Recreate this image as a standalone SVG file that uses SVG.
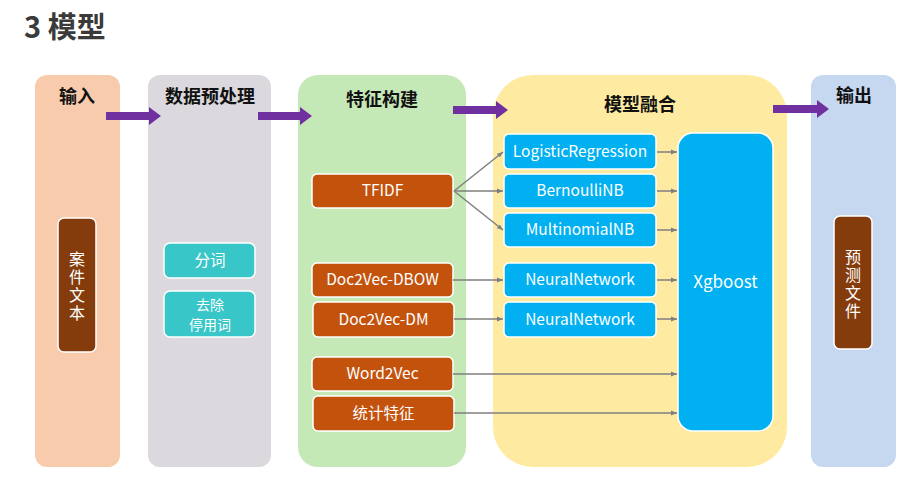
<svg xmlns="http://www.w3.org/2000/svg" width="920" height="481" viewBox="0 0 920 481">
<defs>
<marker id="ah" viewBox="0 0 10 10" refX="10" refY="5" markerWidth="6" markerHeight="6" orient="auto" markerUnits="userSpaceOnUse"><path d="M0,1 L10,5 L0,9 z" fill="#7f7f7f"/></marker>
<style>
text{font-family:"Noto Sans CJK SC","Open Sans",sans-serif;}
.hd{font-size:18px;font-weight:bold;fill:#111;text-anchor:middle;}
.wt{font-size:15.5px;fill:#fff;text-anchor:middle;}
.vt{font-size:16px;fill:#fff;text-anchor:middle;writing-mode:vertical-rl;letter-spacing:2px;}
.br{fill:#c3520d;stroke:#fff;stroke-width:1.5;}
.db{fill:#843c0c;stroke:#fff;stroke-width:1.5;}
.bl{fill:#00b0f0;stroke:#fff;stroke-width:1.5;}
.tl{fill:#38c6c8;stroke:#fff;stroke-width:1.5;}
.cn{stroke:#7f7f7f;stroke-width:1.5;fill:none;marker-end:url(#ah);}
.pa{fill:#7030a0;}
</style>
</defs>
<rect width="920" height="481" fill="#fff"/>
<text x="24" y="38" style="font-size:29px;font-weight:bold;fill:#3a3a3a;">3 模型</text>

<g id="col-input">
<rect x="35" y="75" width="85" height="392" rx="12" fill="#f8cbad"/>
<text class="hd" x="77" y="103">输入</text>
</g>
<g id="col-preprocess">
<rect x="148" y="75" width="123" height="392" rx="12" fill="#dbd9de"/>
<text class="hd" x="210" y="103">数据预处理</text>
</g>
<g id="col-feature">
<rect x="298" y="75" width="168" height="392" rx="20" fill="#c5e8b7"/>
<text class="hd" x="382" y="106">特征构建</text>
</g>
<g id="col-model">
<rect x="493" y="75" width="294" height="392" rx="40" fill="#feeba1"/>
<text class="hd" x="640" y="111">模型融合</text>
</g>
<g id="col-output">
<rect x="811" y="75" width="85" height="392" rx="12" fill="#c5d8f0"/>
<text class="hd" x="854" y="102">输出</text>
</g>

<g id="n-anjian">
<rect class="db" x="58" y="218" width="38" height="134" rx="6"/>
<text class="vt" x="77" y="287">案件文本</text>
</g>
<g id="n-fenci">
<rect class="tl" x="164" y="243" width="91" height="35" rx="6"/>
<text class="wt" x="210" y="266">分词</text>
</g>
<g id="n-quchu">
<rect class="tl" x="164" y="291" width="91" height="46" rx="6"/>
<text class="wt" style="font-size:14px" x="210" y="309.5">去除<tspan x="210" dy="20.5">停用词</tspan></text>
</g>

<g id="n-tfidf">
<rect class="br" x="312" y="174" width="141" height="34" rx="5"/>
<text class="wt" x="382.5" y="196">TFIDF</text>
</g>
<g id="n-dbow">
<rect class="br" x="312" y="263" width="141" height="34" rx="5"/>
<text class="wt" x="382.5" y="285">Doc2Vec-DBOW</text>
</g>
<g id="n-dm">
<rect class="br" x="313" y="302" width="141" height="35" rx="5"/>
<text class="wt" x="383.5" y="324.5">Doc2Vec-DM</text>
</g>
<g id="n-w2v">
<rect class="br" x="312" y="357" width="141" height="34" rx="5"/>
<text class="wt" x="382.5" y="379">Word2Vec</text>
</g>
<g id="n-stat">
<rect class="br" x="313" y="396" width="141" height="35" rx="5"/>
<text class="wt" x="383.5" y="418.5">统计特征</text>
</g>

<g id="n-lr">
<rect class="bl" x="504" y="134" width="152" height="35" rx="5"/>
<text class="wt" x="580" y="156.5">LogisticRegression</text>
</g>
<g id="n-bnb">
<rect class="bl" x="504" y="174" width="152" height="34" rx="5"/>
<text class="wt" x="580" y="196">BernoulliNB</text>
</g>
<g id="n-mnb">
<rect class="bl" x="504" y="213" width="152" height="34" rx="5"/>
<text class="wt" x="580" y="235">MultinomialNB</text>
</g>
<g id="n-nn1">
<rect class="bl" x="504" y="263" width="152" height="34" rx="5"/>
<text class="wt" x="580" y="285">NeuralNetwork</text>
</g>
<g id="n-nn2">
<rect class="bl" x="504" y="302" width="152" height="35" rx="5"/>
<text class="wt" x="580" y="324.5">NeuralNetwork</text>
</g>
<g id="n-xgb">
<rect class="bl" x="678" y="133" width="95" height="298" rx="15"/>
<text class="wt" style="font-size:17px" x="725.5" y="288">Xgboost</text>
</g>

<g id="n-yuce">
<rect class="db" x="834" y="216" width="38" height="133" rx="6"/>
<text class="vt" x="853" y="285">预测文件</text>
</g>

<g id="connectors">
<path class="pa" d="M106,112 H149 V107 L161,116 L149,125 V120 H106 Z"/>
<path class="pa" d="M258,112 H300 V107 L312,116 L300,125 V120 H258 Z"/>
<path class="pa" d="M453,106 H496 V101 L508,110 L496,119 V114 H453 Z"/>
<path class="pa" d="M773,105 H817 V100 L829,109 L817,118 V113 H773 Z"/>
<line class="cn" x1="454" y1="191" x2="503" y2="152"/>
<line class="cn" x1="454" y1="191" x2="503" y2="191"/>
<line class="cn" x1="454" y1="191" x2="503" y2="230"/>
<line class="cn" x1="453" y1="280" x2="503" y2="280"/>
<line class="cn" x1="454" y1="319" x2="503" y2="319"/>
<line class="cn" x1="453" y1="374" x2="677" y2="374"/>
<line class="cn" x1="454" y1="413" x2="677" y2="413"/>
<line class="cn" x1="657" y1="152" x2="677" y2="152"/>
<line class="cn" x1="657" y1="191" x2="677" y2="191"/>
<line class="cn" x1="657" y1="230" x2="677" y2="230"/>
<line class="cn" x1="657" y1="280" x2="677" y2="280"/>
<line class="cn" x1="657" y1="319" x2="677" y2="319"/>
</g>
</svg>
